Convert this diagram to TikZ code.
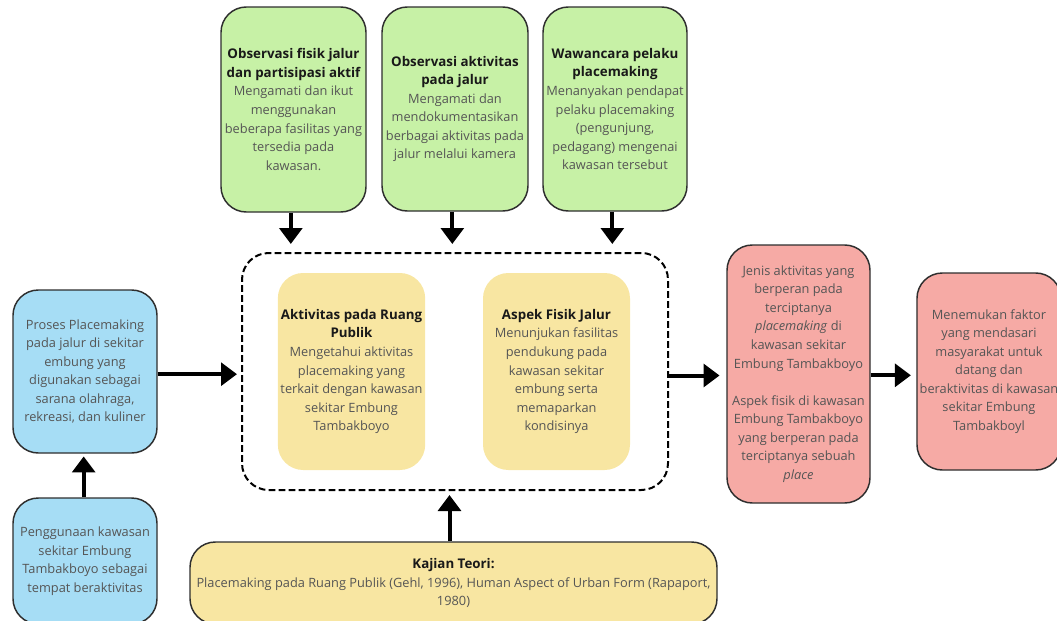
\documentclass[tikz,border=0pt]{standalone}
\usepackage{fontspec}
\setmainfont{Open Sans}
\usetikzlibrary{arrows.meta}

\definecolor{hijau}{HTML}{C7F1A6}
\definecolor{biru}{HTML}{A6DDF5}
\definecolor{kuning}{HTML}{F8E6A2}
\definecolor{merah}{HTML}{F6AAA5}
\definecolor{garis}{HTML}{2E2E2E}
\definecolor{teks}{HTML}{555555}

\newcommand{\judul}[1]{{\fontsize{10}{13.9}\selectfont\bfseries\color{black!90}#1}}

\tikzset{
  kotak/.style={draw=garis, line width=1.1pt, rounded corners=19pt, align=center,
    inner sep=2pt, text=teks, font=\fontsize{9.6}{13.9}\selectfont},
  isian/.style={kotak, draw=none},
  panah/.style={line width=3pt, -{Triangle[length=12pt,width=17pt]}},
}

\begin{document}
\begin{tikzpicture}[x=0.75pt,y=-0.75pt]
  \useasboundingbox (0,0) rectangle (1057,621);

  % pengumpulan data
  \node[kotak, fill=hijau, minimum width=108.75pt, minimum height=153.75pt] (obsfisik) at (293.5,109.5)
    {\judul{Observasi fisik jalur}\\\judul{dan partisipasi aktif}\\Mengamati dan ikut\\menggunakan\\beberapa fasilitas yang\\tersedia pada\\kawasan.};
  \node[kotak, fill=hijau, minimum width=109.5pt, minimum height=153pt] (obsaktiv) at (455,109)
    {\judul{Observasi aktivitas}\\\judul{pada jalur}\\Mengamati dan\\mendokumentasikan\\berbagai aktivitas pada\\jalur melalui kamera};
  \node[kotak, fill=hijau, minimum width=108pt, minimum height=153pt] (wawancara) at (615,109)
    {\judul{Wawancara pelaku}\\\judul{placemaking}\\Menanyakan pendapat\\pelaku placemaking\\(pengunjung,\\pedagang) mengenai\\kawasan tersebut};

  % wadah variabel
  \node[draw=black, line width=1.5pt, dash pattern=on 5pt off 2.5pt, rounded corners=20pt,
    minimum width=319.5pt, minimum height=177.75pt] (wadah) at (455,371.5) {};
  \node[isian, fill=kuning, minimum width=110.25pt, minimum height=147.75pt] (aktivitas) at (351.5,371.5)
    {\judul{Aktivitas pada Ruang}\\\judul{Publik}\\Mengetahui aktivitas\\placemaking yang\\terkait dengan kawasan\\sekitar Embung\\Tambakboyo};
  \node[isian, fill=kuning, minimum width=110.25pt, minimum height=147.75pt] (fisik) at (556.5,371.5)
    {\judul{Aspek Fisik Jalur}\\Menunjukan fasilitas\\pendukung pada\\kawasan sekitar\\embung serta\\memaparkan\\kondisinya};

  % latar belakang
  \node[kotak, fill=biru, minimum width=108pt, minimum height=122.25pt] (proses) at (85,371.5)
    {Proses Placemaking\\pada jalur di sekitar\\embung yang\\digunakan sebagai\\sarana olahraga,\\rekreasi, dan kuliner};
  \node[kotak, fill=biru, minimum width=108pt, minimum height=94.5pt] (guna) at (85,561)
    {Penggunaan kawasan\\sekitar Embung\\Tambakboyo sebagai\\tempat beraktivitas};

  % teori
  \node[kotak, fill=kuning, minimum width=395.25pt, minimum height=61.5pt] (teori) at (453.5,583)
    {\judul{Kajian Teori:}\\Placemaking pada Ruang Publik (Gehl, 1996), Human Aspect of Urban Form (Rapaport,\\1980)};

  % hasil
  \node[kotak, fill=merah, minimum width=107.25pt, minimum height=193.5pt] (hasil) at (798.5,374)
    {Jenis aktivitas yang\\berperan pada\\terciptanya\\\emph{placemaking} di\\kawasan sekitar\\Embung Tambakboyo\\[14pt]Aspek fisik di kawasan\\Embung Tambakboyo\\yang berperan pada\\terciptanya sebuah\\\emph{place}};
  \node[kotak, fill=merah, minimum width=108pt, minimum height=147.75pt] (temuan) at (989,371.5)
    {Menemukan faktor\\yang mendasari\\masyarakat untuk\\datang dan\\beraktivitas di kawasan\\sekitar Embung\\Tambakboyl};

  % panah
  \draw[panah, shorten >=6pt] ([xshift=-2pt]obsfisik.south) -- ([xshift=-2pt]obsfisik.south |- wadah.north);
  \draw[panah, shorten >=6pt] ([xshift=-2pt]obsaktiv.south) -- ([xshift=-2pt]obsaktiv.south |- wadah.north);
  \draw[panah, shorten >=6pt] ([xshift=-2pt]wawancara.south) -- ([xshift=-2pt]wawancara.south |- wadah.north);
  \draw[panah, shorten >=3pt] ([yshift=-2pt]proses.east) -- ([yshift=-2pt]proses.east -| wadah.west);
  \draw[panah, shorten >=2pt] ([xshift=-1pt]guna.north) -- ([xshift=-1pt]proses.south);
  \draw[panah, shorten >=3pt] ([xshift=-3pt]teori.north) -- ([xshift=-3pt]teori.north |- wadah.south);
  \draw[panah, shorten >=5pt] ([yshift=-3pt]wadah.east) -- ([yshift=-3pt]wadah.east -| hasil.west);
  \draw[panah, shorten >=4pt] ([yshift=-1pt]hasil.east) -- ([yshift=-1pt]hasil.east -| temuan.west);
\end{tikzpicture}
\end{document}
